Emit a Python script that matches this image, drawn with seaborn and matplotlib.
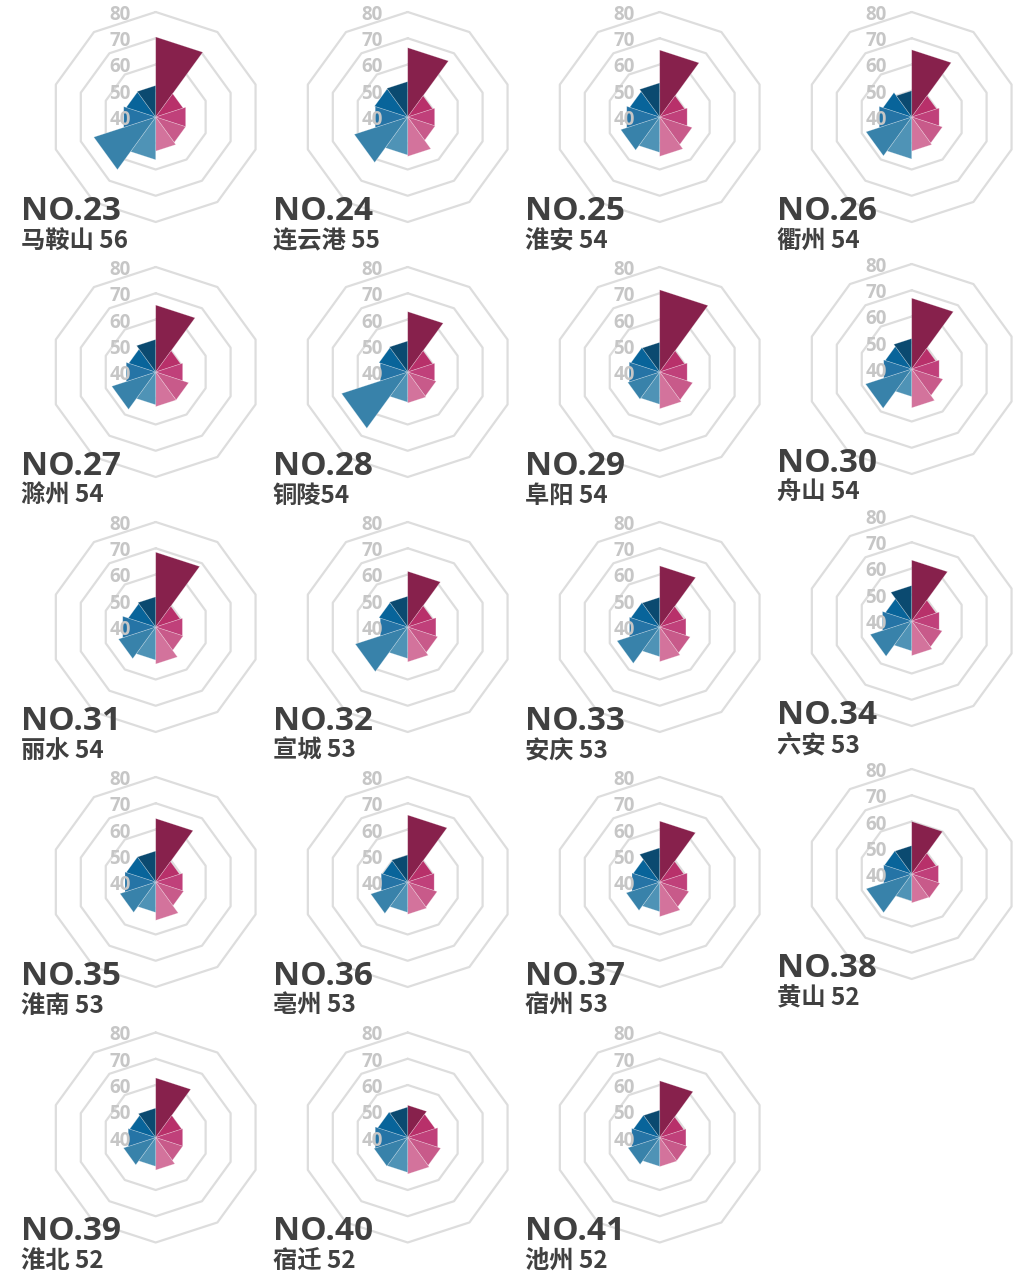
import numpy as np
import pandas as pd
import matplotlib
matplotlib.use("Agg")
import matplotlib.pyplot as plt
import seaborn as sns
from matplotlib import transforms

sns.set_theme(style="white")
plt.rcParams['font.family'] = ['Open Sans', 'Noto Sans CJK SC', 'DejaVu Sans']

# ---------------- data ----------------
ranks = [23, 24, 25, 26, 27, 28, 29, 30, 31, 32, 33, 34, 35, 36, 37, 38, 39, 40, 41]
labels = ["马鞍山 56", "连云港 55", "淮安 54", "衢州 54", "滁州 54", "铜陵54", "阜阳 54",
          "舟山 54", "丽水 54", "宣城 53", "安庆 53", "六安 53", "淮南 53", "亳州 53",
          "宿州 53", "黄山 52", "淮北 52", "宿迁 52", "池州 52"]
indicators = [f"指标{i + 1}" for i in range(10)]

v_maanshan = [70.5, 51.0, 52.0, 52.0, 53.0, 56.3, 64.8, 52.8, 51.8, 52.0]
v_lianyungang = [66.4, 50.0, 50.8, 51.0, 55.0, 54.5, 61.4, 53.0, 53.3, 53.5]
v_huaian = [65.5, 50.0, 51.0, 53.0, 55.0, 53.5, 55.6, 53.2, 52.0, 53.0]
v_quzhou = [65.6, 50.0, 51.0, 52.3, 53.0, 56.0, 58.3, 53.0, 51.5, 50.0]
v_chuzhou = [65.5, 50.0, 50.8, 53.2, 53.2, 52.5, 57.6, 51.8, 50.8, 52.4]
v_tongling = [63.0, 50.0, 50.8, 51.4, 51.8, 51.5, 66.5, 51.0, 51.5, 51.8]
v_fuyang = [71.3, 50.0, 51.0, 53.2, 54.0, 52.3, 52.8, 52.2, 51.5, 51.3]
v_zhoushan = [67.0, 49.7, 51.0, 52.5, 54.8, 50.5, 58.5, 51.2, 50.6, 51.6]
v_lishui = [68.5, 49.8, 50.7, 51.0, 54.1, 52.6, 54.9, 53.2, 51.0, 51.5]
v_xuancheng = [61.2, 50.0, 51.3, 52.0, 53.3, 52.0, 61.0, 51.0, 51.5, 51.7]
v_anqing = [63.3, 49.7, 50.5, 52.2, 53.2, 51.3, 57.1, 52.1, 51.5, 51.3]
v_luan = [63.2, 49.8, 51.0, 52.2, 53.2, 51.4, 56.6, 51.7, 50.5, 53.5]
v_huainan = [64.2, 49.6, 50.8, 51.2, 54.6, 51.6, 54.3, 52.3, 51.8, 51.8]
v_bozhou = [65.5, 50.0, 50.6, 51.8, 52.3, 51.6, 54.8, 50.6, 50.0, 50.3]
v_suzhou = [63.2, 49.7, 51.0, 51.7, 53.2, 51.3, 53.4, 51.1, 50.6, 53.0]
v_huangshan = [60.0, 49.8, 50.7, 51.3, 51.0, 50.3, 58.2, 51.2, 50.9, 50.8]
v_huaibei = [62.7, 50.4, 50.8, 50.8, 52.4, 51.0, 52.9, 51.0, 50.4, 51.2]
v_suqian = [52.3, 51.0, 52.0, 53.2, 53.9, 53.3, 53.5, 53.0, 52.0, 51.6]
v_chizhou = [61.6, 49.7, 50.5, 51.0, 51.1, 51.0, 52.7, 51.2, 50.5, 50.4]

series = [v_maanshan, v_lianyungang, v_huaian, v_quzhou, v_chuzhou, v_tongling, v_fuyang,
          v_zhoushan, v_lishui, v_xuancheng, v_anqing, v_luan, v_huainan, v_bozhou,
          v_suzhou, v_huangshan, v_huaibei, v_suqian, v_chizhou]

ring_ticks = [40, 50, 60, 70, 80]

colors = ['#87214c', '#b8306a', '#c0407a', '#c85a8a', '#d3739c',
          '#4f93b6', '#3882aa', '#2574a6', '#08649a', '#0b4a70']

df = pd.DataFrame(series, columns=indicators)
df.insert(0, "label", labels)
df.insert(0, "rank", ranks)

# ---------------- layout ----------------
W, H, DPI = 1029, 1277, 100
fig = plt.figure(figsize=(W / DPI, H / DPI), dpi=DPI)
fig.patch.set_facecolor("white")

col_x = [155.7, 407.7, 659.7, 911.7]
row_y = [117, 372, 627, 882, 1137.5]
row_y_last = [117, 369, 621, 874]
R_PX = 105  # pixel radius of the 80 ring

n = len(indicators)
step = 2 * np.pi / n

for i, row in df.iterrows():
    r_i, c_i = divmod(i, 4)
    cx = col_x[c_i]
    cy = row_y_last[r_i] if c_i == 3 else row_y[r_i]
    ax = fig.add_axes([(cx - R_PX) / W, 1 - (cy + R_PX) / H, 2 * R_PX / W, 2 * R_PX / H],
                      projection="polar")
    ax.set_theta_zero_location("N")
    ax.set_theta_direction(-1)
    ax.set_ylim(ring_ticks[0], ring_ticks[-1])
    ax.grid(False)
    ax.set_xticks([])
    ax.set_yticks([])
    ax.spines["polar"].set_visible(False)
    ax.set_facecolor("none")

    # decagon rings
    th = np.arange(n + 1) * step
    for t in ring_ticks[1:]:
        ax.plot(th, [t] * (n + 1), color="#dddddd", lw=1.6, clip_on=False, zorder=1)

    vals = row[indicators].to_numpy(dtype=float)
    for k, v in enumerate(vals):
        t0, t1 = k * step, (k + 1) * step
        ax.fill([t0, t0, t1], [ring_ticks[0], v, v], facecolor=colors[k],
                edgecolor=(1, 1, 1, 0.3), lw=0.5, zorder=2)

    off = transforms.offset_copy(ax.transData, fig=fig, x=-25, y=-3, units="dots")
    for t in ring_ticks:
        ax.text(0, t, str(t), transform=off, ha="right", va="center",
                fontsize=13.5, fontweight="bold", color="#c6c6c6",
                family=["Open Sans", "DejaVu Sans"], zorder=5, clip_on=False)

    fig.text((cx - 135) / W, 1 - (cy + 103) / H, f"NO.{row['rank']}",
             fontsize=24, fontweight="bold", color="#404040",
             family=["Open Sans", "DejaVu Sans"], ha="left", va="baseline")
    fig.text((cx - 135) / W, 1 - (cy + 131) / H, row["label"],
             fontsize=17.5, fontweight="bold", color="#404040",
             family=["Noto Sans CJK SC", "DejaVu Sans"], ha="left", va="baseline")

fig.savefig("out.png", dpi=DPI, facecolor="white")
